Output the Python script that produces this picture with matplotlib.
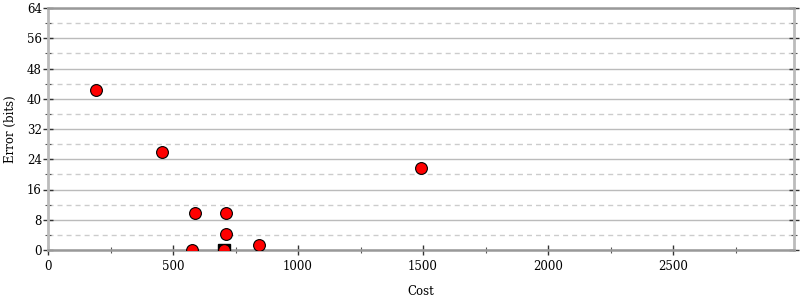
import matplotlib
matplotlib.use("Agg")
import matplotlib.pyplot as plt
from matplotlib.ticker import MultipleLocator

cost = [192, 457, 587, 577, 713, 713, 705, 845, 1493]
error = [42.3, 25.8, 9.7, 0.0, 9.7, 4.3, 0.0, 1.2, 21.7]
best_cost = [705]
best_error = [0.0]

x_label = "Cost"
y_label = "Error (bits)"

plt.rcParams['font.family'] = ['DejaVu Serif']
plt.rcParams['font.size'] = 8.5

fig = plt.figure(figsize=(8, 3), dpi=100)
ax = fig.add_axes([48/800, 50/300, (794-48)/800, (250-8)/300])

ax.set_xlim(0, 2984)
ax.set_ylim(0, 64)
ax.xaxis.set_major_locator(MultipleLocator(500))
ax.xaxis.set_minor_locator(MultipleLocator(250))
ax.yaxis.set_major_locator(MultipleLocator(8))
ax.yaxis.set_minor_locator(MultipleLocator(4))

ax.grid(True, which='major', axis='y', color='#bbbbbb', linewidth=1, linestyle='-')
ax.grid(True, which='minor', axis='y', color='#cccccc', linewidth=1, linestyle=(0, (3.6, 2.9)))
ax.set_axisbelow(True)

ax.plot(best_cost, best_error, linestyle='none', marker='s', markersize=8.5,
        color='black', zorder=3, clip_on=True)
ax.plot(cost, error, linestyle='none', marker='o', markersize=8.5,
        markerfacecolor='red', markeredgecolor='black', markeredgewidth=0.8,
        zorder=4, clip_on=True)

for side in ['left', 'right']:
    ax.spines[side].set_color('#bbbbbb')
    ax.spines[side].set_linewidth(2)
for side in ['top', 'bottom']:
    ax.spines[side].set_color('#999999')
    ax.spines[side].set_linewidth(1.8)

ax.tick_params(axis='both', which='major', direction='inout', length=7, width=1, color='#333333')
ax.tick_params(axis='both', which='minor', direction='inout', length=4, width=0.8, color='#555555')
ax.tick_params(axis='y', which='both', right=True, labelright=False)
ax.tick_params(axis='x', which='both', top=False)
ax.tick_params(axis='x', which='major', pad=4)
ax.tick_params(axis='y', which='major', pad=1)

ax.set_xlabel(x_label)
ax.xaxis.set_label_coords(0.5, (250 - 285) / 242)
ax.set_ylabel(y_label, va='center')
ax.yaxis.set_label_coords((10 - 48) / 746, 0.5)

fig.savefig("out.png", dpi=100)
